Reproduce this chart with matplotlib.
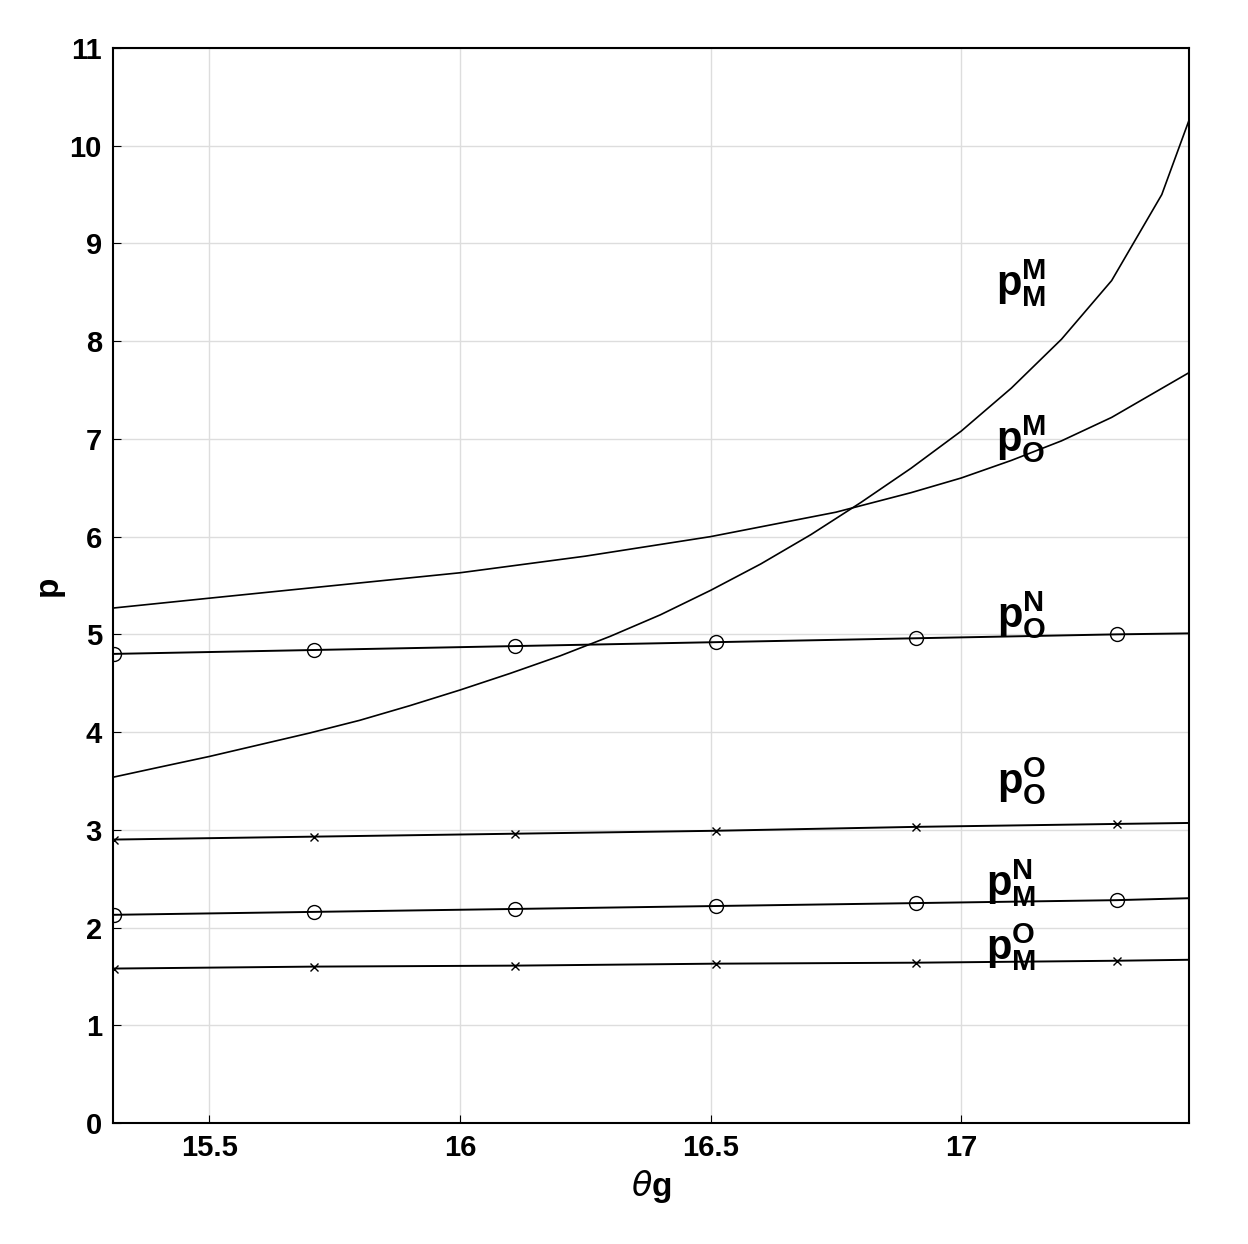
import matplotlib
matplotlib.use("Agg")
import matplotlib.pyplot as plt

plt.rcParams['font.family'] = ['Liberation Sans', 'DejaVu Sans']
plt.rcParams['mathtext.fontset'] = 'custom'
plt.rcParams['mathtext.bf'] = 'Liberation Sans:bold'
plt.rcParams['mathtext.rm'] = 'Liberation Sans:bold'

x_mm = [15.31, 15.4, 15.5, 15.6, 15.7, 15.8, 15.9, 16.0, 16.1, 16.2, 16.3, 16.4,
        16.5, 16.6, 16.7, 16.8, 16.9, 17.0, 17.1, 17.2, 17.3, 17.4, 17.455]
p_mm = [3.54, 3.64, 3.75, 3.87, 3.99, 4.12, 4.27, 4.43, 4.60, 4.78, 4.98, 5.20,
        5.45, 5.72, 6.02, 6.35, 6.70, 7.08, 7.52, 8.02, 8.62, 9.50, 10.27]
x_om = [15.31, 15.5, 15.75, 16.0, 16.25, 16.5, 16.75, 16.9, 17.0, 17.1, 17.2, 17.3, 17.455]
p_om = [5.27, 5.37, 5.50, 5.63, 5.80, 6.00, 6.25, 6.45, 6.60, 6.78, 6.98, 7.22, 7.68]

x_mark = [15.31, 15.71, 16.11, 16.51, 16.91, 17.31, 17.455]
p_on = [4.80, 4.84, 4.88, 4.92, 4.96, 5.00, 5.01]
p_oo = [2.90, 2.93, 2.96, 2.99, 3.03, 3.06, 3.07]
p_mn = [2.13, 2.16, 2.19, 2.22, 2.25, 2.28, 2.30]
p_mo = [1.58, 1.60, 1.61, 1.63, 1.64, 1.66, 1.67]

fig = plt.figure(figsize=(12.48, 12.44), dpi=100)
ax = fig.add_axes([0.0905, 0.0973, 0.8625, 0.8641])

ax.plot(x_mm, p_mm, color='black', lw=1.2)
ax.plot(x_om, p_om, color='black', lw=1.2)
for p, m in [(p_on, 'o'), (p_oo, 'x'), (p_mn, 'o'), (p_mo, 'x')]:
    ax.plot(x_mark, p, color='black', lw=1.4)
    ax.plot(x_mark[:-1], p[:-1], ls='none', marker=m, mfc='none', mec='black',
            ms=10 if m == 'o' else 6, mew=1.0)

labels = [(17.12, 8.6, r'$\mathbf{p_M^M}$'), (17.12, 7.0, r'$\mathbf{p_O^M}$'),
          (17.12, 5.2, r'$\mathbf{p_O^N}$'), (17.12, 3.5, r'$\mathbf{p_O^O}$'),
          (17.1, 2.45, r'$\mathbf{p_M^N}$'), (17.1, 1.8, r'$\mathbf{p_M^O}$')]
for x, y, t in labels:
    ax.text(x, y, t, fontsize=30, ha='center', va='center')

ax.set_xlim(15.308, 17.455)
ax.set_ylim(0, 11)
ax.set_xticks([15.5, 16, 16.5, 17])
ax.set_xticklabels(['15.5', '16', '16.5', '17'])
ax.set_yticks(range(12))
ax.tick_params(labelsize=21, direction='in', length=6, pad=8)
for l in ax.get_xticklabels() + ax.get_yticklabels():
    l.set_fontweight('bold')
ax.grid(True, color='#dddddd', lw=1)
for s in ax.spines.values():
    s.set_linewidth(1.5)
ax.set_xlabel(r'$\theta$g', fontsize=24, fontweight='bold')
ax.set_ylabel('p', fontsize=24, fontweight='bold')
fig.savefig('out.png', dpi=100)
